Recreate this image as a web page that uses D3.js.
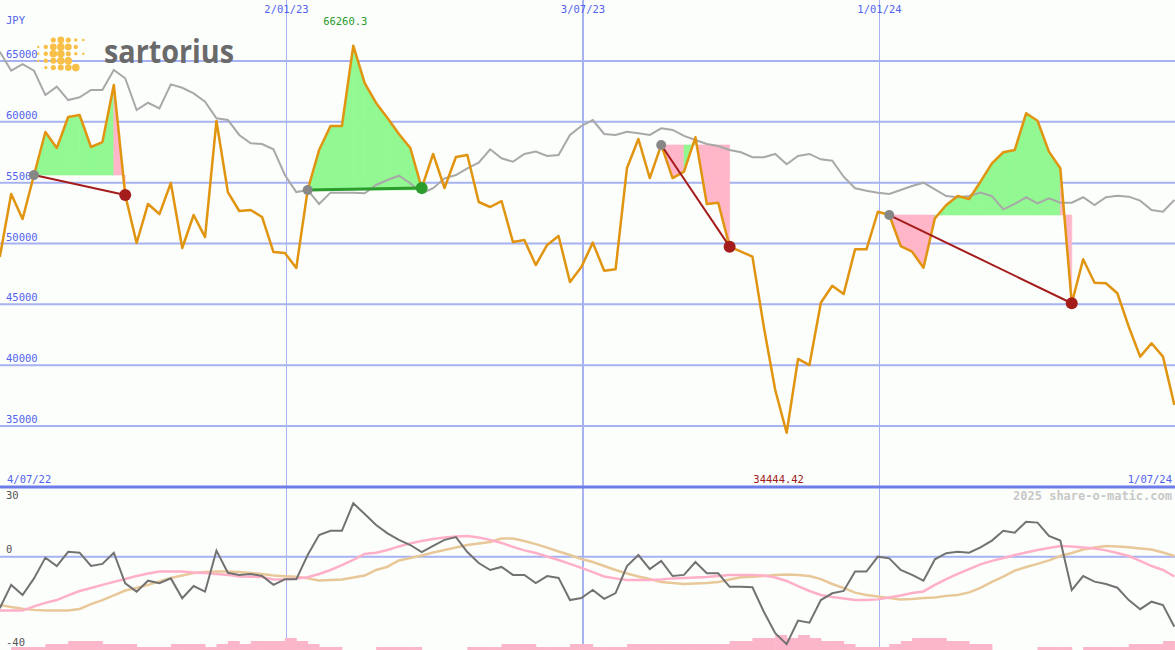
<!DOCTYPE html>
<html><head><meta charset="utf-8">
<script src="https://cdn.jsdelivr.net/npm/d3@7"></script>
<style>html,body{margin:0;padding:0;background:#fcfefc;overflow:hidden}</style>
</head><body>
<svg id="c" width="1175" height="650"></svg>
<script>
// ---- data ----
const startDate = Date.UTC(2022, 6, 10);
const price = [48890,54070,52010,55630,59160,57850,60400,60560,57930,58340,
63030,53990,50040,53250,52420,54970,49630,52340,50530,60070,
54230,52670,52750,52180,49300,49220,47990,54400,57680,59660,
59660,66260.3,63190,61550,60320,59000,57850,54560,57360,54560,
57110,57270,53410,53000,53490,50120,50290,48230,49880,50620,
46840,48070,50070,47760,47880,56210,58590,55380,58100,55380,
55900,58730,53250,53350,49740,49330,48920,43140,37960,34444.42,
40510,40010,45130,46530,45850,49520,49520,52610,52340,49790,
49330,48010,52070,53160,53900,53660,55080,56590,57500,57680,
60700,60090,57550,56180,45090,48700,46780,46730,45910,43160,
40700,41800,40700,36730];
const avg = [65760,64200,64750,64200,62200,62890,61790,62020,62620,62620,
64260,63580,60970,61570,61110,63080,62800,62340,61650,60290,
60150,58920,58240,58180,57740,55630,54230,54400,53250,54180,
54180,54180,54130,54810,55220,55570,54950,54130,54540,55360,
55630,56180,56640,57740,57000,56720,57360,57550,57190,57270,
58920,59660,60150,59000,58920,59190,59060,58920,59470,59330,
58840,58510,58180,58010,57680,57500,57090,57090,57360,56510,
57190,57360,56920,56810,55490,54540,54340,54180,54070,54400,
54730,55000,54450,53900,53800,53900,54180,53900,52810,53250,
53800,53300,53720,53350,53350,53800,53160,53800,53930,53850,
53520,52750,52610,53580];
const momentum = [-22.1,-12.1,-16.4,-9.3,-0.4,-4.0,2.1,1.7,-4.0,-3.1,
1.7,-11.4,-15.0,-10.3,-11.4,-9.3,-17.8,-12.6,-15.0,2.6,
-6.9,-7.8,-7.4,-8.3,-12.1,-9.7,-9.7,0.7,9.3,11.1,
11.1,22.9,18.3,13.6,10.0,7.2,5.0,2.0,4.6,7.2,
8.4,2.0,-2.7,-5.7,-4.4,-7.8,-7.8,-11.3,-8.3,-9.1,
-18.6,-17.7,-14.3,-18.1,-15.6,-4.0,0.7,-5.3,-1.8,-8.3,
-7.8,-2.3,-7.1,-7.1,-12.9,-12.9,-13.1,-23.6,-32.8,-37.5,
-27.4,-28.3,-18.6,-15.7,-14.7,-6.4,-6.4,0,-0.7,-5.7,
-7.8,-10.3,-1.1,1.5,2.1,1.7,4.0,6.9,11.1,10.3,
15.0,14.6,8.9,6.9,-14.3,-8.3,-10.7,-11.7,-13.3,-18.6,
-22.5,-19.3,-20.7,-30.0];
const signalFast = [-23.1,-23.1,-23.1,-21.3,-19.8,-18.6,-16.6,-14.7,-13.4,-12.1,
-10.8,-9.6,-8.3,-7.2,-6.4,-6.4,-6.4,-6.8,-7.0,-7.4,
-7.8,-8.5,-8.6,-8.7,-9.8,-9.7,-9.3,-8.8,-7.4,-5.7,
-3.6,-1.4,1.2,1.7,2.9,4.4,5.7,6.7,7.6,8.2,
8.7,8.9,8.2,7.2,5.9,4.2,2.7,1.6,0.1,-1.4,
-3.1,-4.8,-6.6,-8.5,-9.3,-10.0,-10.0,-10.0,-9.8,-9.3,
-9.1,-8.9,-8.7,-8.3,-7.8,-7.8,-7.8,-8.1,-8.9,-10.4,
-12.6,-14.7,-16.4,-17.3,-17.9,-18.6,-18.6,-18.3,-17.5,-16.6,
-15.6,-14.9,-12.1,-9.6,-7.4,-5.3,-3.3,-1.8,-0.6,0.7,
1.8,2.9,3.7,4.6,4.4,3.9,3.5,2.7,1.6,0.3,
-1.8,-4.0,-5.7,-8.5];
const signalSlow = [-20.7,-21.6,-22.3,-22.8,-23.1,-23.1,-23.1,-22.4,-20.3,-18.6,
-16.6,-14.5,-13.4,-12.1,-10.6,-9.1,-8.1,-7.0,-6.6,-6.4,
-6.4,-6.6,-7.0,-7.4,-8.1,-8.4,-8.6,-9.3,-10.2,-10.0,
-9.8,-8.9,-8.1,-5.7,-4.3,-1.6,-0.6,0.5,1.8,2.9,
3.9,5.0,5.7,6.3,7.8,7.8,6.7,5.4,3.9,2.2,
0.7,-1.0,-2.3,-4.0,-5.7,-7.2,-8.5,-9.6,-10.9,-11.3,
-11.7,-11.5,-11.3,-10.9,-9.8,-8.8,-8.6,-8.3,-7.8,-7.6,
-7.8,-8.3,-9.6,-11.7,-13.4,-15.4,-16.4,-17.1,-17.7,-18.3,
-18.1,-17.7,-17.5,-16.8,-16.4,-15.3,-13.4,-10.8,-8.5,-6.0,
-4.4,-3.1,-1.6,0.3,1.6,3.1,3.9,4.6,4.4,4.0,
3.5,3.1,1.8,0.3];
const volume = [0,1,1,1,2,2,3,3,3,2,
2,2,1,1,1,2,2,2,1,2,
3,2,3,3,3,4,3,2,1,1,
0,0,0,1,1,1,1,0,0,0,
0,1,1,1,2,2,2,1,1,1,
2,2,1,1,1,2,2,2,2,2,
2,2,2,2,3,3,4,4,5,4,
5,4,3,3,2,1,1,1,2,3,
4,4,4,3,3,2,2,0,0,0,
0,1,1,1,0,1,1,1,1,2,
2,2,3,3];
const tradeBuy = [3, 27, 58, 78];
const tradeSell = [11, 37, 64, 94];
const priceTicks = [65000, 60000, 55000, 50000, 45000, 40000, 35000];
const lowTicks = [30, 0, -40];
const dateLines = [Date.UTC(2023,0,2), Date.UTC(2023,6,3), Date.UTC(2024,0,1)];
const dateLabels = ["2/01/23", "3/07/23", "1/01/24"];
const rangeLabels = ["4/07/22", "1/07/24"];
const currency = "JPY";
const brand = "sartorius";
const credit = "2025 share-o-matic.com";

// ---- setup ----
const W = 1175, H = 650;
const dates = price.map((_, i) => new Date(startDate + i * 7 * 864e5));
const svg = d3.select("#c");
const x = d3.scaleUtc().domain([Date.UTC(2022,6,4), Date.UTC(2024,6,1)]).range([-10, 1176]);
const y = d3.scaleLinear().domain([35000, 65000]).range([426, 61]);
const yL = d3.scaleLinear().domain([-40, 30]).range([650, 486.7]);
const yV = d3.scaleLinear().domain([0, 10]).range([650, 620]);
const mono = "'DejaVu Sans Mono', 'Liberation Mono', monospace";
const blue = "#5262ee", grid = "#a6b2f2";

svg.append("rect").attr("width", W).attr("height", H).attr("fill", "#fcfefc");

// date verticals
dateLines.forEach((d, k) => {
  svg.append("line").attr("x1", x(d)).attr("x2", x(d)).attr("y1", 0).attr("y2", H)
    .attr("stroke", grid).attr("stroke-width", k === 1 ? 2 : 1);
  svg.append("text").attr("x", x(d)).attr("y", 13).attr("text-anchor", "middle")
    .attr("font-family", mono).attr("font-size", 10.5).attr("fill", blue).text(dateLabels[k]);
});

// price grid
priceTicks.forEach(t => {
  svg.append("line").attr("x1", 0).attr("x2", W).attr("y1", y(t)).attr("y2", y(t))
    .attr("stroke", grid).attr("stroke-width", 2);
  svg.append("text").attr("x", 6).attr("y", y(t) - 3).attr("font-family", mono)
    .attr("font-size", 10.5).attr("fill", blue).text(t);
});
svg.append("text").attr("x", 6).attr("y", 24).attr("font-family", mono)
  .attr("font-size", 10.5).attr("fill", blue).text(currency);

// logo
const dotR = [[0,0,2.6,3.4,2.6,1.7,1.3],[1.2,2.2,3.4,3.8,3.4,2.2,0],[1.2,2.2,3.8,3.8,2.6,1.7,1.2],[1.2,2.2,3,3.8,3.8,0,0],[0,1.7,2.6,3,3.4,3.8,0]];
const logo = svg.append("g");
dotR.forEach((row, r) => row.forEach((rad, c) => {
  if (rad > 0) logo.append("circle").attr("cx", 38.3 + c * 7.5).attr("cy", 40 + r * 6.9)
    .attr("r", rad).attr("fill", "#f8c048");
}));
logo.append("text").attr("x", 104).attr("y", 63).attr("font-family", "'Open Sans', 'Liberation Sans', sans-serif")
  .attr("font-weight", 700).attr("font-size", 33).attr("fill", "#6a6a6a")
  .attr("textLength", 130).attr("lengthAdjust", "spacingAndGlyphs").text(brand);

// trade fills
const area = d3.area().x(i => x(dates[i])).y1(i => y(price[i]));
tradeBuy.forEach((b, k) => {
  const s = tradeSell[k], level = price[b];
  for (let j = b; j < s; j++) {
    const col = price[j + 1] >= level ? "#92f892" : "#ffb6c8";
    svg.append("path").datum([j, j + 1]).attr("d", area.y0(y(level)))
      .attr("fill", col).attr("stroke", col).attr("stroke-width", 0.6);
  }
});

// average line
const line = d3.line().x((d, i) => x(dates[i]));
svg.append("path").datum(avg).attr("d", line.y(d => y(d))).attr("fill", "none")
  .attr("stroke", "#a8a8a8").attr("stroke-width", 2);
// price line
svg.append("path").datum(price).attr("d", line.y(d => y(d))).attr("fill", "none")
  .attr("stroke", "#e09410").attr("stroke-width", 2.5).attr("stroke-linejoin", "round");

// trade connectors & dots
tradeBuy.forEach((b, k) => {
  const s = tradeSell[k], win = price[s] >= price[b];
  const col = win ? "#2c9c2c" : "#a41c1c";
  svg.append("line").attr("x1", x(dates[b])).attr("y1", y(price[b]))
    .attr("x2", x(dates[s])).attr("y2", y(price[s])).attr("stroke", col).attr("stroke-width", win ? 3 : 2);
  svg.append("circle").attr("cx", x(dates[b])).attr("cy", y(price[b])).attr("r", 5).attr("fill", "#878787");
  svg.append("circle").attr("cx", x(dates[s])).attr("cy", y(price[s])).attr("r", 6).attr("fill", col);
});

// max / min labels
const iMax = d3.maxIndex(price), iMin = d3.minIndex(price);
svg.append("text").attr("x", x(dates[iMax]) - 8).attr("y", 25).attr("text-anchor", "middle")
  .attr("font-family", mono).attr("font-size", 10.5).attr("fill", "#2a9a2a").text(String(price[iMax]));
svg.append("text").attr("x", x(dates[iMin]) - 8).attr("y", 483).attr("text-anchor", "middle")
  .attr("font-family", mono).attr("font-size", 10.5).attr("fill", "#a01818").text(String(price[iMin]));

// range labels
svg.append("text").attr("x", 7).attr("y", 483).attr("font-family", mono).attr("font-size", 10.5)
  .attr("fill", blue).text(rangeLabels[0]);
svg.append("text").attr("x", 1172).attr("y", 483).attr("text-anchor", "end").attr("font-family", mono)
  .attr("font-size", 10.5).attr("fill", blue).text(rangeLabels[1]);

// separator
svg.append("line").attr("x1", 0).attr("x2", W).attr("y1", 487).attr("y2", 487)
  .attr("stroke", "#6c7ce8").attr("stroke-width", 3);

// lower panel
svg.append("line").attr("x1", 0).attr("x2", W).attr("y1", yL(0)).attr("y2", yL(0))
  .attr("stroke", grid).attr("stroke-width", 2);
lowTicks.forEach(t => {
  svg.append("text").attr("x", 6).attr("y", t === 30 ? yL(t) + 12 : yL(t) - 4)
    .attr("font-family", mono).attr("font-size", 10.5).attr("fill", "#555").text(t);
});
svg.append("text").attr("x", 1172).attr("y", 500).attr("text-anchor", "end").attr("font-family", mono)
  .attr("font-weight", "bold").attr("font-size", 12).attr("fill", "#c8c8c8").text(credit);

svg.append("g").selectAll("rect").data(volume).join("rect")
  .attr("x", (d, i) => x(dates[i])).attr("width", (d, i) => x(new Date(+dates[i] + 7 * 864e5)) - x(dates[i]) + 0.5)
  .attr("y", d => yV(d)).attr("height", d => 650 - yV(d)).attr("fill", "#fbb6c9");

svg.append("path").datum(signalSlow).attr("d", line.y(d => yL(d))).attr("fill", "none")
  .attr("stroke", "#e8c898").attr("stroke-width", 2.5);
svg.append("path").datum(signalFast).attr("d", line.y(d => yL(d))).attr("fill", "none")
  .attr("stroke", "#ffb0c8").attr("stroke-width", 2.5);
svg.append("path").datum(momentum).attr("d", line.y(d => yL(d))).attr("fill", "none")
  .attr("stroke", "#727272").attr("stroke-width", 2);
</script>
</body></html>
